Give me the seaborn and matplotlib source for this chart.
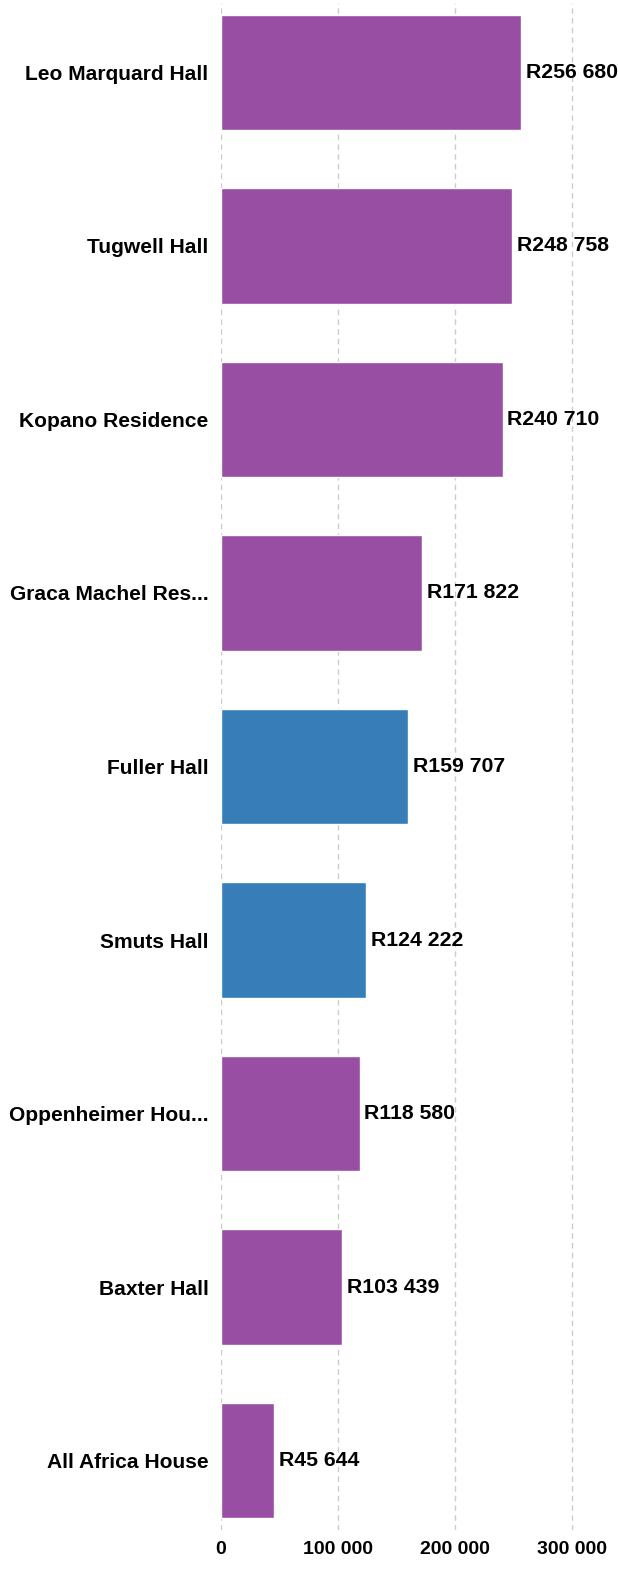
import pandas as pd
import matplotlib
matplotlib.use("Agg")
import matplotlib.pyplot as plt
import seaborn as sns

residences = ["Leo Marquard Hall", "Tugwell Hall", "Kopano Residence", "Graca Machel Res...",
              "Fuller Hall", "Smuts Hall", "Oppenheimer Hou...", "Baxter Hall", "All Africa House"]
amounts = [256680, 248758, 240710, 171822, 159707, 124222, 118580, 103439, 45644]
groups = ["other", "other", "other", "other", "highlight", "highlight", "other", "other", "other"]
xticks = [0, 100000, 200000, 300000]

palette = {"other": "#984EA3", "highlight": "#377EB8"}

df = pd.DataFrame({"residence": residences, "amount": amounts, "group": groups})

sns.set_style("white")
plt.rcParams['font.family'] = ['Liberation Sans', 'DejaVu Sans']
plt.rcParams['text.color'] = 'black'
plt.rcParams['xtick.color'] = 'black'
plt.rcParams['ytick.color'] = 'black'

fig = plt.figure(figsize=(6.18, 15.84), dpi=100)
ax = fig.add_axes([221/618, 1 - 1530/1584, 1 - 221/618, 1527/1584])

sns.barplot(data=df, y="residence", x="amount", hue="group", palette=palette,
            orient="h", width=0.665, dodge=False, legend=False, saturation=1, ax=ax)

ax.set_xlim(0, 339300)
ax.set_ylim(len(residences) - 1 + 0.4, -0.4)
ax.set_xticks(xticks)
ax.set_xticklabels([f"{t:,}".replace(",", " ") for t in xticks], fontsize=14, fontweight="bold")
ax.tick_params(axis="x", length=3, color="#f28e2b", pad=5, labelcolor="black")
ax.tick_params(axis="y", length=0, pad=9, labelsize=15.1, labelcolor="black")
for lbl in ax.get_yticklabels():
    lbl.set_fontweight("bold")
ax.set_xlabel("")
ax.set_ylabel("")
ax.grid(axis="x", color="#cccccc", linestyle=(0, (4, 3)), linewidth=1)
ax.set_axisbelow(True)
for s in ax.spines.values():
    s.set_visible(False)

for i, v in enumerate(amounts):
    ax.text(v + 4000, i, f"R{v:,}".replace(",", " "), va="center", ha="left",
            fontsize=15.3, fontweight="bold", color="black")

fig.savefig("out.png", dpi=100)
